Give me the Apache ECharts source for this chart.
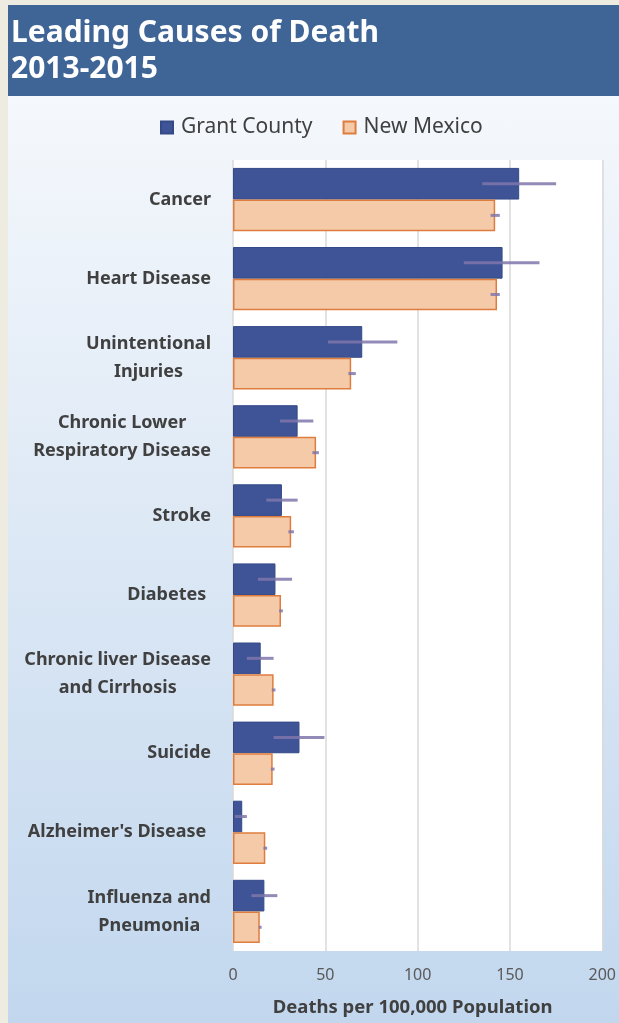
<!DOCTYPE html>
<html>
<head>
<meta charset="utf-8">
<script src="https://cdn.jsdelivr.net/npm/echarts@6/dist/echarts.min.js"></script>
<style>
html,body{margin:0;padding:0;}
#chart{width:619px;height:1023px;
background:
 linear-gradient(#3f6496,#3f6496) 8px 5px / 611px 91px no-repeat,
 linear-gradient(#f5f8fc,#c2d7ee) 8px 96px / 611px 927px no-repeat,
 #eeebe0;}
</style>
</head>
<body>
<div id="chart"></div>
<script>
const categories = ['Cancer','Heart Disease','Unintentional\nInjuries','Chronic Lower\nRespiratory Disease','Stroke','Diabetes ','Chronic liver Disease\nand Cirrhosis','Suicide',"Alzheimer's Disease ",'Influenza and\nPneumonia'];
const grantValues = [155,146,70,35,26.5,23,15,36,5,17];
const nmValues = [142,143,64,45,31.5,26,22,21.5,17.5,14.5];
const grantLow = [135,125,51.5,25.5,18,13.5,7.5,22,1,10];
const grantHigh = [175,166,89,43.5,35,32,22,49.5,7.5,24];
const nmLow = [139.5,139.5,62.5,43,30,25,21,20.5,16.5,14];
const nmHigh = [144.5,144.5,66.5,46.5,33,27,23,22.5,18.5,15.5];
const xTicks = [0,50,100,150,200];

const chart = echarts.init(document.getElementById('chart'));
const FONT = 'Noto Sans';

function errRender(sign){
  return function(params, api){
    const cat = api.value(2);
    const p0 = api.coord([api.value(0), cat]);
    const p1 = api.coord([api.value(1), cat]);
    const band = api.size([0,1])[1];
    const off = sign * band * 0.2;
    return {type:'line', shape:{x1:p0[0], y1:p0[1]+off, x2:p1[0], y2:p1[1]+off},
      style:{stroke:'#7f77ab', lineWidth:3, opacity:0.85}};
  };
}

chart.setOption({
  animation:false,
  title:{
    text:'Leading Causes of Death\n2013-2015',
    left:11, top:15, padding:0,
    textStyle:{color:'#ffffff', fontFamily:FONT, fontWeight:'bold', fontSize:30, lineHeight:36}
  },
  legend:{
    data:['Grant County','New Mexico'],
    left:155, top:112, itemWidth:12, itemHeight:12, itemGap:30, icon:'rect',
    textStyle:{color:'#404040', fontFamily:FONT, fontSize:21, padding:[0,0,0,3]}
  },
  grid:{left:233, right:16, top:160, bottom:72, show:true, backgroundColor:'#ffffff', borderWidth:0},
  xAxis:{
    type:'value', min:xTicks[0], max:xTicks[xTicks.length-1], interval:50,
    axisLine:{show:false}, axisTick:{show:false},
    splitLine:{lineStyle:{color:'#d9d9d9', width:1.5}},
    axisLabel:{color:'#595959', fontFamily:FONT, fontSize:16, margin:16},
    name:'Deaths per 100,000 Population', nameLocation:'middle', nameGap:47,
    nameTextStyle:{color:'#404040', fontFamily:FONT, fontSize:18.5, fontWeight:'bold', padding:[0,10,0,0]}
  },
  yAxis:{
    type:'category', data:categories, inverse:true,
    axisLine:{show:false}, axisTick:{show:false}, splitLine:{show:false},
    axisLabel:{
      margin:22, align:'right',
      formatter:function(v){ return v.split('\n').map(s=>'{c|'+s+'}').join('\n'); },
      rich:{c:{align:'center', color:'#404040', fontFamily:FONT, fontSize:18, fontWeight:'bold', lineHeight:28}}
    }
  },
  series:[
    {name:'Grant County', type:'bar', data:grantValues, barGap:'0%', barCategoryGap:'20%',
      itemStyle:{color:'#3e5496', borderColor:'#344a88', borderWidth:1}},
    {name:'New Mexico', type:'bar', data:nmValues, barGap:'0%', barCategoryGap:'20%',
      itemStyle:{color:'#f4caa9', borderColor:'#de7d3e', borderWidth:1.5}},
    {name:'GC err', type:'custom', renderItem:errRender(-1), encode:{x:[0,1], y:2}, z:5,
      data:categories.map((c,i)=>[grantLow[i], grantHigh[i], i])},
    {name:'NM err', type:'custom', renderItem:errRender(1), encode:{x:[0,1], y:2}, z:5,
      data:categories.map((c,i)=>[nmLow[i], nmHigh[i], i])}
  ]
});
</script>
</body>
</html>
